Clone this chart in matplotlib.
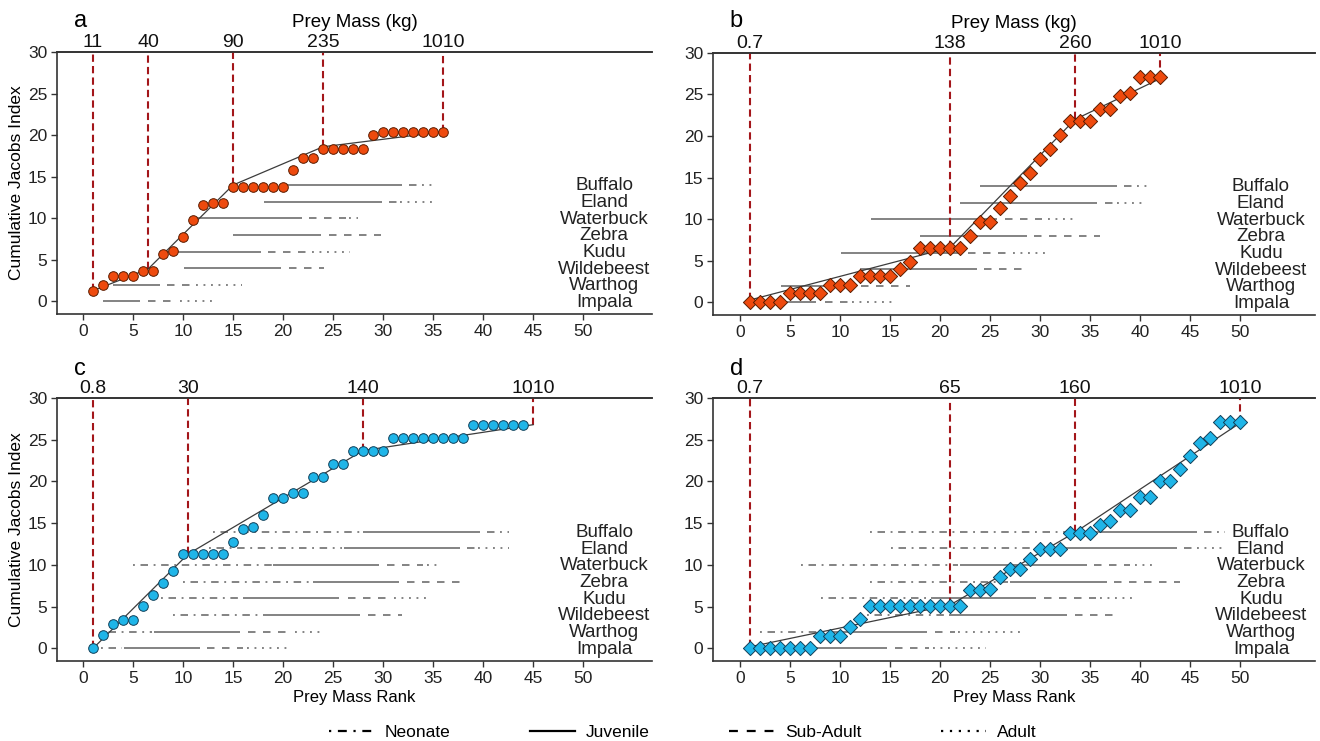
import numpy as np
import matplotlib.pyplot as plt
from matplotlib.lines import Line2D

plt.rcParams['font.family'] = ['Liberation Sans', 'DejaVu Sans']

# ── Species rows and life stages ──────────────────────────────
species   = ["Buffalo", "Eland", "Waterbuck", "Zebra", "Kudu", "Wildebeest", "Warthog", "Impala"]
species_y = [14, 12, 10, 8, 6, 4, 2, 0]
stages    = ["Neonate", "Juvenile", "Sub-Adult", "Adult"]
stage_ls  = [(0, (1, 3, 4, 3)), "-", (0, (4, 4)), (0, (1, 3))]

# ── Panel a ───────────────────────────────────────────────────
jacobs_a = [1.3, 2.0, 3.1, 3.1, 3.1, 3.7, 3.7, 5.7, 6.1, 7.8, 9.8, 11.6, 11.9, 11.9,
            13.8, 13.8, 13.8, 13.8, 13.8, 13.8, 15.8, 17.3, 17.3,
            18.3, 18.3, 18.3, 18.3, 18.3, 20.0,
            20.4, 20.4, 20.4, 20.4, 20.4, 20.4, 20.4]
bp_a   = [1, 6.5, 15, 24, 36]
fit_a  = [1.3, 3.9, 14.0, 18.6, 20.4]
mass_a = ["11", "40", "90", "235", "1010"]
span_a = [  # Neonate, Juvenile, Sub-Adult, Adult (rank spans), species order
    [None, (20.3, 31.9), (32.6, 33.5), (33.9, 35.0)],
    [None, (18.1, 29.9), (30.6, 31.5), (31.7, 34.9)],
    [None, (11.0, 21.9), (22.6, 26.3), (26.6, 27.5)],
    [None, (15.0, 23.8), (24.6, 29.8), None],
    [None, (8.1, 17.8), (18.5, 22.4), (22.9, 26.7)],
    [None, (10.1, 19.8), (20.6, 24.1), None],
    [None, (3.0, 7.7), (8.4, 10.9), (11.3, 15.9)],
    [None, (2.0, 5.7), (6.5, 9.4), (9.7, 13.0)],
]

# ── Panel b ───────────────────────────────────────────────────
jacobs_b = [0.0, 0.0, 0.0, 0.0, 1.1, 1.1, 1.1, 1.1, 2.1, 2.1, 2.1,
            3.2, 3.2, 3.2, 3.2, 4.0, 4.9,
            6.6, 6.6, 6.6, 6.6, 6.6, 8.0, 9.7, 9.7, 11.3, 12.8, 14.4, 15.6,
            17.2, 18.5, 20.1, 21.8, 21.8, 21.8, 23.2, 23.2, 24.8, 25.2,
            27.1, 27.1, 27.1]
bp_b   = [1, 21, 33.5, 42]
fit_b  = [0.3, 6.6, 22.0, 26.9]
mass_b = ["0.7", "138", "260", "1010"]
span_b = [
    [None, (24.0, 37.7), (38.4, 39.3), (39.7, 40.7)],
    [None, (22.0, 35.7), (36.5, 37.3), (37.7, 40.5)],
    [None, (13.1, 25.7), (26.5, 30.2), (30.8, 33.5)],
    [None, (18.0, 28.7), (29.4, 36.0), None],
    [None, (10.1, 22.0), (22.8, 27.0), (27.3, 31.0)],
    [None, (12.0, 23.7), (24.4, 28.9), None],
    [None, (4.1, 11.3), (12.1, 17.0), None],
    [None, (3.0, 7.6), (8.5, 10.9), (11.2, 15.6)],
]

# ── Panel c ───────────────────────────────────────────────────
jacobs_c = [0.0, 1.6, 2.9, 3.4, 3.4, 5.1, 6.4, 7.8, 9.3,
            11.3, 11.3, 11.3, 11.3, 11.3, 12.8, 14.3, 14.6, 16.0,
            18.0, 18.0, 18.6, 18.6, 20.5, 20.5, 22.1, 22.1,
            23.6, 23.6, 23.6, 23.6,
            25.25, 25.25, 25.25, 25.25, 25.25, 25.25, 25.25, 25.25,
            26.8, 26.8, 26.8, 26.8, 26.8, 26.8]
bp_c   = [1, 10.5, 28, 45]
fit_c  = [0.0, 11.3, 23.7, 26.8]
mass_c = ["0.8", "30", "140", "1010"]
span_c = [
    [(13.0, 27.7), (28.0, 39.7), (40.4, 41.2), (41.7, 42.6)],
    [(12.6, 25.9), (26.1, 37.7), (38.4, 39.2), (39.5, 42.6)],
    [(5.0, 18.9), (19.0, 29.6), (30.4, 34.0), (34.4, 35.4)],
    [(10.0, 22.8), (23.0, 31.6), (32.4, 37.7), None],
    [(7.8, 15.9), (16.0, 25.6), (26.5, 30.9), (31.1, 34.5)],
    [(9.0, 17.8), (18.0, 27.7), (28.5, 31.9), None],
    [(1.8, 6.9), (7.1, 15.7), (16.5, 21.0), (21.2, 23.9)],
    [(1.8, 3.9), (4.1, 11.7), (12.4, 16.0), (16.4, 20.9)],
]

# ── Panel d ───────────────────────────────────────────────────
jacobs_d = [0, 0, 0, 0, 0, 0, 0, 1.5, 1.5, 1.5, 2.6, 3.5,
            5.1, 5.1, 5.1, 5.1, 5.1, 5.1, 5.1, 5.1, 5.1, 5.1,
            7.0, 7.0, 7.1, 8.5, 9.5, 9.5, 10.75, 11.9, 11.9, 11.9,
            13.8, 13.8, 13.8, 14.8, 15.3, 16.6, 16.6, 18.1, 18.1,
            20.1, 20.1, 21.5, 23.0, 24.6, 25.25, 27.1, 27.1, 27.1]
bp_d   = [1, 21, 33.5, 50]
fit_d  = [0.2, 5.2, 13.9, 27.0]
mass_d = ["0.7", "65", "160", "1010"]
span_d = [
    [(13.0, 34.0), (34.3, 45.7), (46.4, 47.2), (47.7, 48.5)],
    [(15.1, 31.5), (32.0, 43.7), (44.4, 45.2), (45.7, 48.6)],
    [(6.1, 21.8), (22.0, 34.7), (35.4, 39.0), (39.5, 41.7)],
    [(13.0, 26.8), (27.0, 36.7), (37.4, 44.0), None],
    [(8.1, 18.9), (19.1, 29.6), (30.4, 35.6), (36.0, 39.4)],
    [(12.7, 20.7), (20.9, 32.7), (33.5, 38.0), None],
    [(2.0, 9.0), (9.2, 18.7), (19.5, 21.5), (21.8, 28.0)],
    [(2.0, 7.1), (7.3, 14.7), (15.5, 18.9), (19.3, 24.6)],
]

ORANGE = "#EE4A0E"
BLUE   = "#1FB5E8"

fig = plt.figure(figsize=(13.2, 7.41), dpi=100)
axes = [fig.add_axes([0.0432, 0.5763, 0.4508, 0.3536]),
        fig.add_axes([0.5402, 0.5750, 0.4560, 0.3536]),
        fig.add_axes([0.0432, 0.1080, 0.4508, 0.3549]),
        fig.add_axes([0.5402, 0.1080, 0.4560, 0.3549])]

panels = [
    (jacobs_a, bp_a, fit_a, mass_a, span_a, "o", ORANGE, "#5a1c00", "a", (-2.6, 56.9)),
    (jacobs_b, bp_b, fit_b, mass_b, span_b, "D", ORANGE, "#5a1c00", "b", (-2.7, 57.5)),
    (jacobs_c, bp_c, fit_c, mass_c, span_c, "o", BLUE, "#10405a", "c", (-2.6, 56.9)),
    (jacobs_d, bp_d, fit_d, mass_d, span_d, "D", BLUE, "#10405a", "d", (-2.7, 57.5)),
]

for i, (ax, (jac, bp, fit, mass, span, mk, fc, ec, letter, xl)) in enumerate(zip(axes, panels)):
    # age-class rank spans per species
    for yy, row in zip(species_y, span):
        for seg, ls in zip(row, stage_ls):
            if seg is None:
                continue
            ax.plot(seg, [yy, yy], color="#7f7f7f", lw=1.35, linestyle=ls,
                    solid_capstyle="butt", zorder=1)
    for yy, name in zip(species_y, species):
        ax.text(52.1, yy - 0.1, name, ha="center", va="center", fontsize=13.5, color="#222222")

    # breakpoints and fitted segments
    ax.vlines(bp, fit, 30, colors="#A3161A", linestyles=(0, (3.5, 2)), lw=1.5, zorder=2)
    ax.plot(bp, fit, color="#3c3c3c", lw=0.9, zorder=3)

    ranks = np.arange(1, len(jac) + 1)
    ax.scatter(ranks, jac, marker=mk, s=48 if mk == "o" else 52, facecolor=fc,
               edgecolor=ec, linewidth=0.7, zorder=4)

    ax.set_xlim(*xl)
    ax.set_ylim(-1.5, 30)
    ax.set_xticks(range(0, 51, 5))
    ax.set_yticks(range(0, 31, 5))
    ax.tick_params(labelsize=12.5, length=4, width=1, color="#333333", labelcolor="#222222", pad=3)
    ax.spines["right"].set_visible(False)
    for s in ["left", "bottom", "top"]:
        ax.spines[s].set_color("#333333")
        ax.spines[s].set_linewidth(1.2)

    sec = ax.secondary_xaxis("top")
    sec.set_xticks(bp, labels=mass)
    sec.tick_params(length=0, pad=1, labelsize=14, labelcolor="#111111")
    sec.spines["top"].set_color("#333333")
    sec.spines["top"].set_linewidth(1.2)
    if i < 2:
        sec.set_xlabel("Prey Mass (kg)", fontsize=13.5, labelpad=5)
    else:
        ax.set_xlabel("Prey Mass Rank", fontsize=12, labelpad=3)
    if i % 2 == 0:
        ax.set_ylabel("Cumulative Jacobs Index", fontsize=12.5, labelpad=3)

    ax.text(0.028, 1.12 if i < 2 else 1.11, letter,
            transform=ax.transAxes, fontsize=17, ha="left", va="center")

# ── Legend ───────────────────────────────────────────────────
handles = [Line2D([], [], color="black", lw=1.6, linestyle=ls) for ls in stage_ls]
fig.legend(handles, stages, loc="center", bbox_to_anchor=(0.517, 0.012), ncol=4,
           frameon=False, fontsize=12.5, handlelength=2.6, handletextpad=0.6,
           columnspacing=4.6)

fig.savefig("out.png", dpi=100)
